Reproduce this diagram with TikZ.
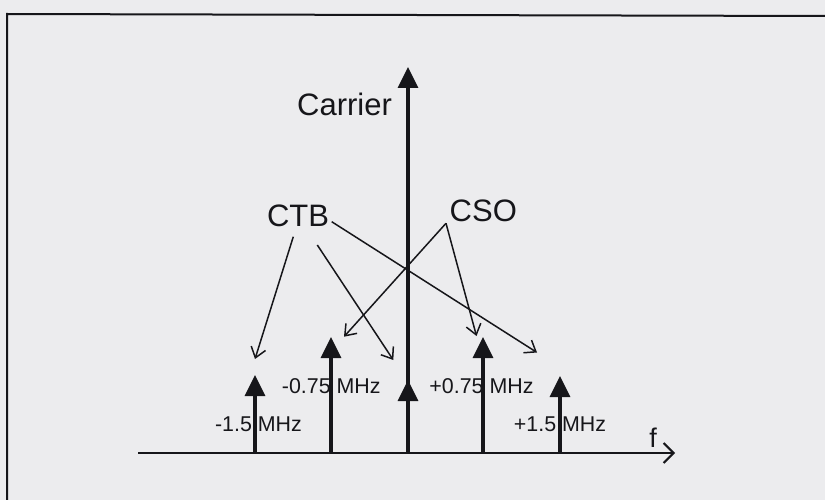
\documentclass[tikz,border=0pt]{standalone}
\usepackage{fontspec}
\setmainfont{Liberation Sans}
\usetikzlibrary{arrows.meta}
\definecolor{paper}{RGB}{236,236,238}
\definecolor{ink}{RGB}{22,22,26}
\begin{document}
\begin{tikzpicture}[x=1pt,y=-1pt,
  stem/.style={draw=ink,line width=3.3pt,-{Triangle[width=20pt,length=21pt]}},
  pointer/.style={draw=ink,line width=1.5pt,-{Straight Barb[length=10pt,width=15pt,line width=1.5pt]}},
  biglabel/.style={anchor=base,inner sep=0pt,text=ink,font=\fontsize{31}{31}\selectfont},
  freqlabel/.style={anchor=base,inner sep=0pt,text=ink,font=\fontsize{21.4}{21.4}\selectfont}]
\useasboundingbox (0,0) rectangle (825,500);
\fill[paper] (0,0) rectangle (825,500);
% frame (only top and left edges visible)
\draw[ink,line width=2pt] (7,500) -- (7,14) -- (825,16);
% labels
\node[biglabel] (carrier) at (344.5,116) {Carrier};
\node[biglabel] (ctb) at (298,226.7) {CTB};
\node[biglabel] (cso) at (483.3,221.7) {CSO};
\node[freqlabel] (l1) at (258.5,431.7) {-1.5 MHz};
\node[freqlabel] (l2) at (331.3,393.3) {-0.75 MHz};
\node[freqlabel] (l4) at (481.5,393) {+0.75 MHz};
\node[freqlabel] (l5) at (560,431.7) {+1.5 MHz};
\node[anchor=base,inner sep=0pt,text=ink,font=\fontsize{27}{27}\selectfont] (flab) at (653,447) {f};
% axis
\coordinate (ax0) at (138,453);
\coordinate (ax1) at (675,453);
\draw[ink,line width=2.5pt,-{Straight Barb[length=10pt,width=20pt,line width=2pt]}] (ax0) -- (ax1);
% stems
\coordinate (b1) at (255,453); \coordinate (t1) at (255,375);
\coordinate (b2) at (331,453); \coordinate (t2) at (331,337);
\coordinate (b3) at (408,453); \coordinate (t3) at (408,67); \coordinate (m3) at (408,380);
\coordinate (b4) at (483,453); \coordinate (t4) at (483,337);
\coordinate (b5) at (560,453); \coordinate (t5) at (560,376);
\draw[stem] (b1) -- (t1);
\draw[stem] (b2) -- (t2);
\draw[stem] (b3) -- (t3);
\draw[stem] (b3) -- (m3);
\draw[stem] (b4) -- (t4);
\draw[stem] (b5) -- (t5);
% pointers
\coordinate (ctbA) at (293.3,236.7);
\coordinate (ctbB) at (317.3,245);
\coordinate (ctbC) at (331.7,221.7);
\coordinate (csoA) at (446,223.3);
\coordinate (e1) at (255,359);
\coordinate (e2) at (393.3,360);
\coordinate (e3) at (537,352.5);
\coordinate (e4) at (344,336.7);
\coordinate (e5) at (476.5,336);
\draw[pointer] (ctbA) -- (e1);
\draw[pointer] (ctbB) -- (e2);
\draw[pointer] (ctbC) -- (e3);
\draw[pointer] (csoA) -- (e4);
\draw[pointer] (csoA) -- (e5);
\end{tikzpicture}
\end{document}
